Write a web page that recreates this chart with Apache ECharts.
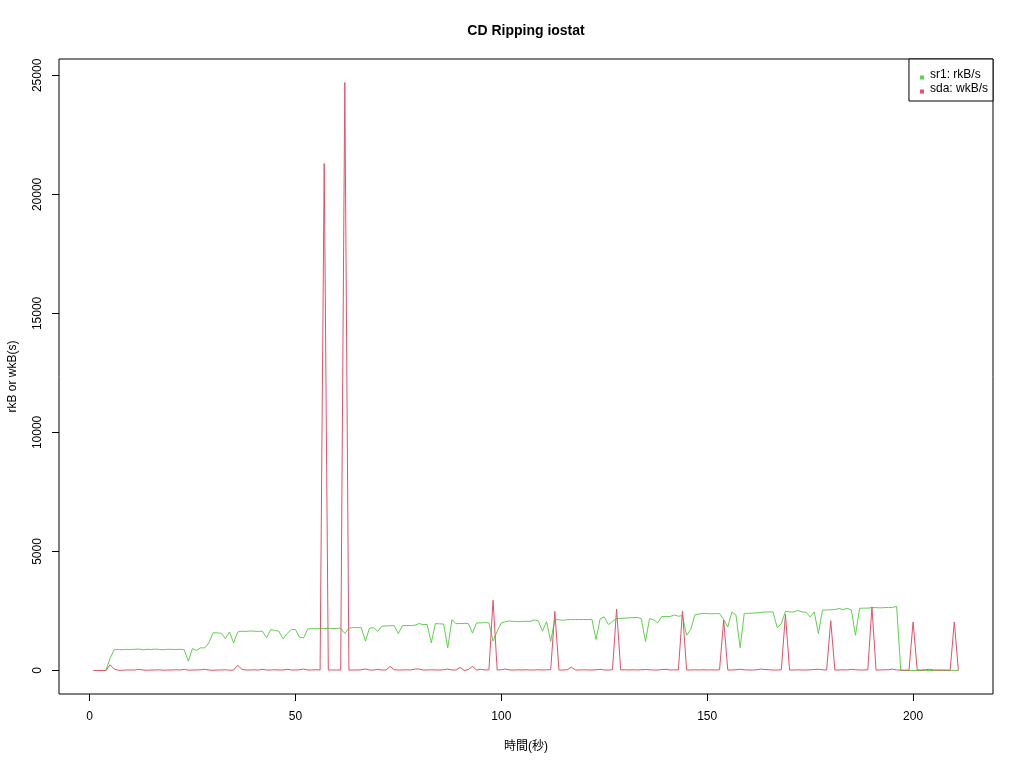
<!DOCTYPE html>
<html>
<head>
<meta charset="utf-8">
<script src="https://cdn.jsdelivr.net/npm/echarts@6/dist/echarts.min.js"></script>
<style>html,body{margin:0;padding:0;background:#fff}#c{width:1024px;height:768px}</style>
</head>
<body>
<div id="c"></div>
<script>
const title = "CD Ripping iostat";
const xName = "時間(秒)";
const yName = "rkB or wkB(s)";
const seriesNames = ["sr1: rkB/s", "sda: wkB/s"];
const xTicks = [0, 50, 100, 150, 200];
const yTicks = [0, 5000, 10000, 15000, 20000, 25000];
// seconds 1..211
const sr1 = [
  0,0,0,0,520,870,880,870,885,880,
  890,900,870,890,880,900,880,870,890,885,
  880,890,870,390,920,840,950,950,1160,1580,
  1580,1560,1340,1620,1160,1620,1650,1640,1660,1650,
  1640,1650,1370,1720,1680,1650,1330,1550,1720,1720,
  1400,1370,1750,1760,1750,1760,1760,1770,1760,1770,
  1780,1550,1780,1800,1800,1800,1230,1780,1800,1650,
  1860,1870,1880,1880,1550,1890,1890,1890,1900,1970,
  1930,1930,1160,1970,1960,1950,950,2130,1970,1970,
  1980,1970,1570,2000,2000,2010,2000,1230,1650,2000,
  2050,2080,2060,2050,2060,2070,2060,2120,2080,1650,
  2060,1220,2140,2130,2110,2130,2140,2140,2140,2140,
  2140,2150,1300,2170,2250,1930,2060,2180,2190,2200,
  2210,2220,2230,2180,1220,2180,2130,2000,2270,2270,
  2270,2330,2280,2300,1480,1720,2340,2370,2400,2390,
  2380,2390,2390,2140,1830,2460,2320,950,2400,2400,
  2410,2420,2440,2460,2460,2460,1800,1960,2490,2460,
  2460,2520,2460,2450,2250,2460,1550,2540,2540,2550,
  2560,2600,2560,2610,2550,1480,2610,2620,2620,2640,
  2640,2630,2640,2650,2640,2700,0,0,0,0,
  0,0,0,0,0,0,0,0,0,0,
  0
];
const sda = [
  0,0,0,0,240,60,10,10,20,20,
  20,50,20,10,20,20,30,10,20,20,
  30,20,50,10,20,20,30,50,20,10,
  20,20,30,10,20,220,50,20,20,30,
  20,50,20,20,30,20,20,50,20,20,
  30,60,20,20,30,20,21300,20,20,20,
  20,24700,20,20,20,30,60,20,20,50,
  20,20,170,30,20,20,30,20,60,60,
  20,20,30,20,20,30,60,20,20,130,
  0,40,170,20,50,20,30,2950,20,30,
  60,20,20,30,20,30,20,20,30,20,
  30,30,2480,20,20,30,140,20,20,30,
  20,20,30,50,20,20,30,2580,20,30,
  20,30,20,30,40,30,20,20,40,50,
  20,30,20,2500,20,20,30,20,30,20,
  30,20,30,2120,20,20,30,50,30,20,
  20,30,60,40,30,20,20,30,2350,20,
  20,30,20,20,30,40,50,30,20,2090,
  20,20,30,20,50,30,20,20,30,2670,
  20,20,30,30,60,20,20,10,20,2040,
  20,20,30,50,20,20,20,20,10,2040,
  0
];
const colors = ["#61D04F", "#DF536B"];
const toPairs = arr => arr.map((v, i) => [i + 1, v]);

const font = "'Liberation Sans', 'Noto Sans CJK JP', sans-serif";
const legendIcon = 'path://M0,0h0.01v0.01h-0.01zM0,7.5h4v4h-4zM0,14h0.01v0.01h-0.01z';
const chart = echarts.init(document.getElementById('c'), null, {renderer: 'canvas'});
chart.setOption({
  animation: false,
  backgroundColor: '#fff',
  title: {
    text: title, left: 526, top: 24, textAlign: 'center', padding: 0,
    textStyle: {fontFamily: font, fontSize: 14, fontWeight: 'bold', color: '#000'}
  },
  legend: {
    orient: 'vertical', right: 31, top: 59,
    data: seriesNames,
    icon: legendIcon, itemWidth: 4, itemHeight: 14, itemGap: 0,
    backgroundColor: '#fff', borderColor: '#000', borderWidth: 1, borderRadius: 0,
    padding: [9, 5, 5, 11],
    textStyle: {fontFamily: font, fontSize: 12, lineHeight: 14, color: '#000', padding: [0, 0, 0, 1]}
  },
  grid: {left: 59, right: 31, top: 59, bottom: 74, show: true, borderColor: '#000', borderWidth: 1,
         backgroundColor: 'transparent', containLabel: false, outerBoundsMode: 'none'},
  xAxis: {
    type: 'value', min: -7.4, max: 219.4,
    name: xName, nameLocation: 'middle', nameGap: 47,
    nameTextStyle: {fontFamily: font, fontSize: 12, color: '#000'},
    axisLine: {show: false, onZero: false},
    axisTick: {show: true, length: 7, lineStyle: {color: '#000'}, customValues: xTicks},
    axisLabel: {fontFamily: font, fontSize: 12, color: '#000', margin: 17, customValues: xTicks,
                formatter: v => String(v)},
    splitLine: {show: false}
  },
  yAxis: {
    type: 'value', min: -988, max: 25688,
    name: yName, nameLocation: 'middle', nameGap: 40,
    nameTextStyle: {fontFamily: font, fontSize: 12, color: '#000'},
    axisLine: {show: false, onZero: false},
    axisTick: {show: true, length: 7, lineStyle: {color: '#000'}, customValues: yTicks},
    axisLabel: {fontFamily: font, fontSize: 12, color: '#000', margin: 15, rotate: 90, customValues: yTicks,
                formatter: v => String(v)},
    splitLine: {show: false}
  },
  series: [
    {name: seriesNames[0], type: 'line', data: toPairs(sr1), showSymbol: false, symbol: 'none',
     lineStyle: {width: 1, color: colors[0]}, itemStyle: {color: colors[0]}},
    {name: seriesNames[1], type: 'line', data: toPairs(sda), showSymbol: false, symbol: 'none',
     lineStyle: {width: 1, color: colors[1]}, itemStyle: {color: colors[1]}}
  ]
});
</script>
</body>
</html>
